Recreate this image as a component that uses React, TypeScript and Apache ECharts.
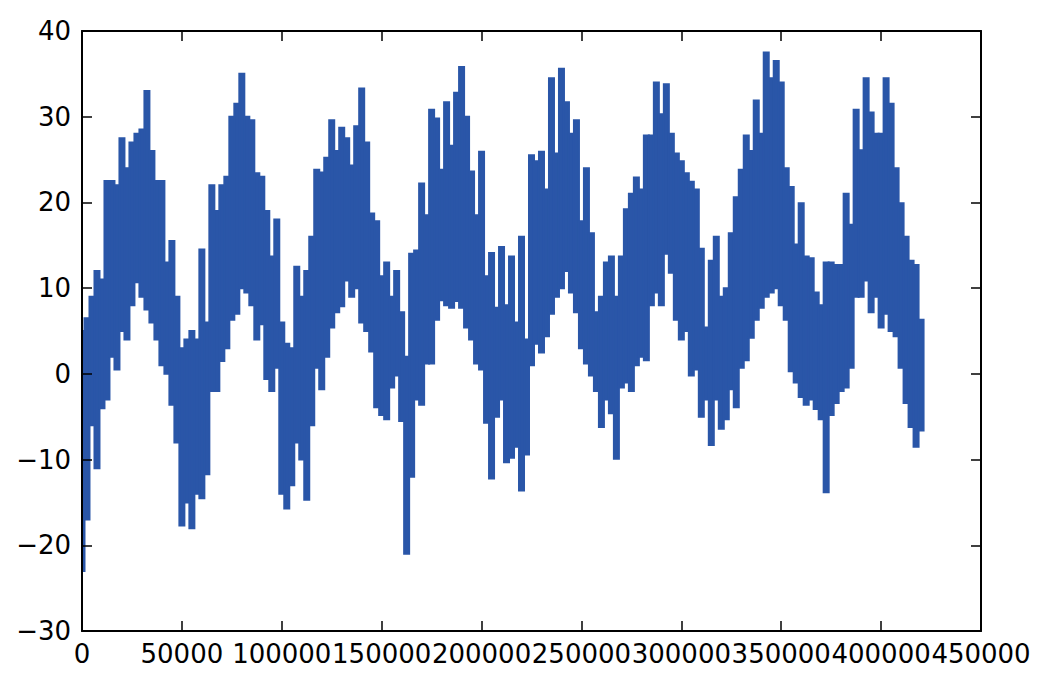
import React, { useEffect, useRef } from "react";
import * as echarts from "echarts";

// Sample spacing along the x-axis (record index) and the axis ranges
const SAMPLE_STEP = 2500;
const X_MAX = 450000;
const X_INTERVAL = 50000;
const Y_MIN = -30;
const Y_MAX = 40;
const Y_INTERVAL = 10;

// Upper envelope of the temperature trace, one value per 2500 records
const HIGH = [
  5, 6.5, 9, 12, 11, 22.5, 22.5, 22, 27.5, 24,
  27, 28, 28.5, 33, 26, 22.5, 22.5, 13, 15.5, 9,
  3, 4, 5, 4, 14.5, 6, 22, 19, 22, 23,
  30, 31.5, 35, 30, 29.6, 23.4, 23, 19, 13.7, 18,
  6, 3.5, 3, 12.5, 9, 12, 16, 23.8, 23.5, 25.2,
  29.6, 26, 28.7, 27.5, 24.3, 28.9, 33.3, 27, 18.7, 17.8,
  11.4, 13, 9, 12, 7.2, 2, 14, 14.4, 22.2, 18.5,
  30.8, 29.8, 23.8, 31.7, 26.6, 32.8, 35.8, 30, 23.6, 18.5,
  25.9, 11.4, 14.1, 7.7, 14.8, 8, 13.7, 6, 16, 4,
  25.5, 24.8, 25.9, 21.5, 34.5, 25.7, 35.6, 31.7, 28, 29.6,
  17.8, 24, 16.4, 7.2, 9, 13, 13.7, 9, 13.7, 19.2,
  21, 22.9, 21.5, 27.8, 27.8, 34, 30.3, 33.8, 28, 25.7,
  24.8, 23.4, 22.4, 21.5, 14.6, 5.4, 13.2, 16, 9, 10,
  16.4, 20.6, 23.8, 27.8, 26, 31.9, 28, 37.5, 34.5, 36.5,
  34, 24, 21.8, 15.1, 19.9, 13.7, 13.5, 9.5, 8, 13,
  13, 12.7, 12.7, 21, 17.4, 30.8, 26.1, 34.5, 30.5, 28,
  28, 34.5, 31.5, 24, 19.9, 16, 13.2, 12.7, 6.3,
];

// Lower envelope of the temperature trace, same sampling
const LOW = [
  -23, -17, -6, -11, -4, -3, 2, 0.5, 5, 4,
  8, 10.7, 9, 7.5, 6, 4, 1, 0, -3.6, -8,
  -17.7, -15, -18, -14, -14.5, -11.7, -2, -2, 1.5, 3,
  6.3, 7, 10, 9.5, 8, 4, 5.8, -0.6, -2, 0.7,
  -14, -15.7, -13, -8, -10, -14.7, -6, 0.7, -1.8, 2,
  5.4, 7.2, 7.9, 10.9, 9, 10, 6, 5, 2.6, -3.9,
  -4.8, -5.3, -1.6, -0.2, -5.5, -21, -12, -3, -3.6, 1.2,
  1.2, 6.3, 8.6, 8, 7.7, 8.5, 7.7, 5.4, 4, 1.2,
  0.5, -5.7, -12.2, -5, -3, -10.3, -9.8, -8.5, -13.6, -9.4,
  1, 3.5, 2.5, 4.4, 7, 9, 10, 12, 9.5, 7.2,
  3, 1.2, -0.2, -2, -6.2, -3, -4.6, -9.9, -1.6, -1,
  -2, 1, 2, 1.6, 8, 9.5, 8, 14, 11.8, 6.3,
  4, 5, -0.2, 0.5, -5, -3, -8.3, -3, -6.4, -5.3,
  -1.8, -3.9, 0.7, 1.6, 4.2, 6.3, 7.7, 9, 9.5, 10,
  8, 6.3, 0.3, -1, -2.7, -3.6, -3, -4.1, -5.3, -13.8,
  -4.8, -3.4, -2, -1.6, 0.7, 9, 9, 10.9, 7.2, 9,
  5.4, 7, 5, 4.4, 0.7, -3.4, -6.2, -8.5, -6.6,
];

const LINE_COLOR = "#2a56a8";
const FONT = "DejaVu Sans";

export default function App() {
  const ref = useRef<HTMLDivElement | null>(null);

  useEffect(() => {
    if (!ref.current) return;
    const chart = echarts.init(ref.current, undefined, { renderer: "svg" });

    // rows: [record index, low, high]
    const rows = HIGH.map((h, i) => [i * SAMPLE_STEP, LOW[i], h]);

    const fmtX = (v: number) => String(v);
    const fmtY = (v: number) => (v < 0 ? "\u2212" + Math.abs(v) : String(v));

    const axisLine = { show: true, onZero: false, lineStyle: { color: "#000", width: 2 } };
    const tick = { show: true, inside: true, length: 10, lineStyle: { color: "#000", width: 1.5 } };
    const labelStyle = { color: "#000", fontFamily: FONT, fontSize: 26 };

    const xBase = {
      type: "value",
      min: 0,
      max: X_MAX,
      interval: X_INTERVAL,
      axisLine,
      axisTick: tick,
      splitLine: { show: false },
      z: 5,
    };
    const yBase = {
      type: "value",
      min: Y_MIN,
      max: Y_MAX,
      interval: Y_INTERVAL,
      axisLine,
      axisTick: tick,
      splitLine: { show: false },
      z: 5,
    };

    chart.setOption({
      animation: false,
      backgroundColor: "#fff",
      grid: { left: 82, right: 69, top: 31, bottom: 57, containLabel: false },
      xAxis: [
        {
          ...xBase,
          position: "bottom",
          axisLabel: {
            ...labelStyle,
            margin: 10,
            hideOverlap: false,
            showMinLabel: true,
            showMaxLabel: true,
            formatter: fmtX,
          },
        },
        { ...xBase, position: "top", axisLabel: { show: false } },
      ],
      yAxis: [
        {
          ...yBase,
          position: "left",
          axisLabel: { ...labelStyle, margin: 11, formatter: fmtY, showMinLabel: true, showMaxLabel: true },
        },
        { ...yBase, position: "right", axisLabel: { show: false } },
      ],
      series: [
        {
          name: "temperature",
          type: "custom",
          data: rows,
          encode: { x: 0, y: [1, 2] },
          clip: true,
          renderItem: (params: any, api: any) => {
            const x = api.value(0);
            const lo = api.value(1);
            const hi = api.value(2);
            const top = api.coord([x, hi]);
            const bot = api.coord([x, lo]);
            const w = api.size([SAMPLE_STEP, 0])[0];
            return {
              type: "rect",
              shape: { x: top[0] - w / 2, y: top[1], width: w, height: bot[1] - top[1] },
              style: { fill: LINE_COLOR, stroke: LINE_COLOR, lineWidth: 2 },
            };
          },
          z: 2,
        },
      ],
    });

    return () => chart.dispose();
  }, []);

  return (
    <div
      ref={ref}
      style={{ position: "absolute", left: 0, top: 0, width: 1050, height: 688 }}
    />
  );
}
